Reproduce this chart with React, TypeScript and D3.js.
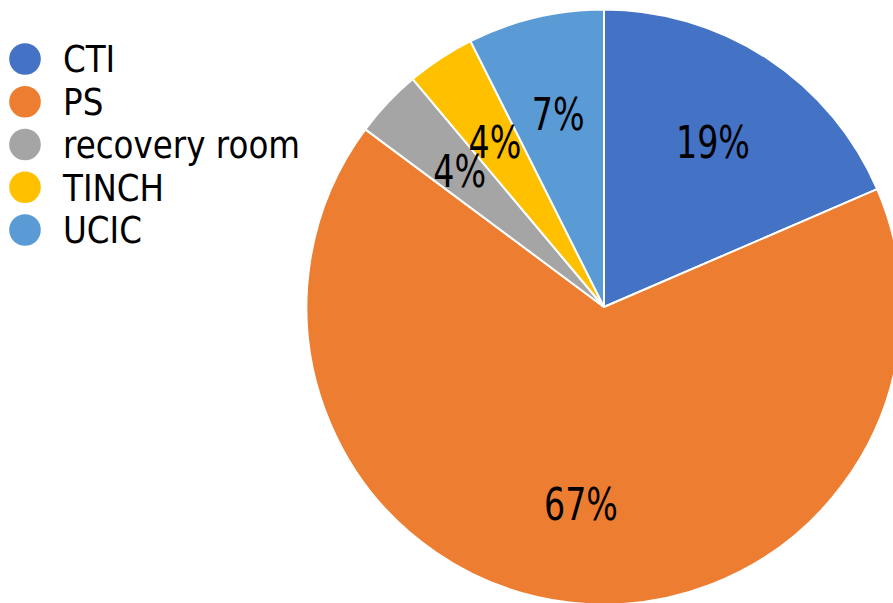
import React from "react";
import * as d3 from "d3";

const categories = ["CTI", "PS", "recovery room", "TINCH", "UCIC"];
const counts = [5, 18, 1, 1, 2];
const colors = ["#4472C4", "#ED7D31", "#A5A5A5", "#FFC000", "#5B9BD5"];

const W = 893;
const H = 603;
const cx = 604;
const cy = 307;
const R = 297.5;
const FONT = "'DejaVu Sans', sans-serif";

export default function App() {
  const pie = d3
    .pie<number>()
    .sort(null)
    .value((d) => d)
    .startAngle(0)
    .endAngle(2 * Math.PI);
  const arcs = pie(counts);
  const arc = d3.arc<d3.PieArcDatum<number>>().innerRadius(0).outerRadius(R);
  const labelArc = d3
    .arc<d3.PieArcDatum<number>>()
    .innerRadius((R * 2) / 3)
    .outerRadius((R * 2) / 3);
  const total = d3.sum(counts);
  const fmt = d3.format(".0%");

  const legendY = d3
    .scalePoint<string>()
    .domain(categories)
    .range([59, 230]);

  const labelSize = 45;
  const legendSize = 37;

  return (
    <svg
      width={W}
      height={H}
      style={{ position: "absolute", left: 0, top: 0, display: "block", background: "#fff" }}
    >
      <g transform={`translate(${cx},${cy})`}>
        {arcs.map((a, i) => (
          <path key={i} d={arc(a) || ""} fill={colors[i]} stroke="#fff" strokeWidth={2} strokeLinejoin="round" />
        ))}
        {arcs.map((a, i) => {
          const [x, y] = labelArc.centroid(a);
          return (
            <text
              key={"l" + i}
              transform={`translate(${x},${y + labelSize * 0.729 * 0.5}) scale(0.74,1)`}
              textAnchor="middle"
              fontFamily={FONT}
              fontSize={labelSize}
              fill="#000"
            >
              {fmt(a.data / total)}
            </text>
          );
        })}
      </g>
      <g>
        {categories.map((c, i) => {
          const y = legendY(c) as number;
          return (
            <g key={c}>
              <circle cx={25} cy={y} r={15.8} fill={colors[i]} />
              <text
                transform={`translate(63,${y + legendSize * 0.729 * 0.5}) scale(0.88,1)`}
                fontFamily={FONT}
                fontSize={legendSize}
                fill="#000"
              >
                {c}
              </text>
            </g>
          );
        })}
      </g>
    </svg>
  );
}
